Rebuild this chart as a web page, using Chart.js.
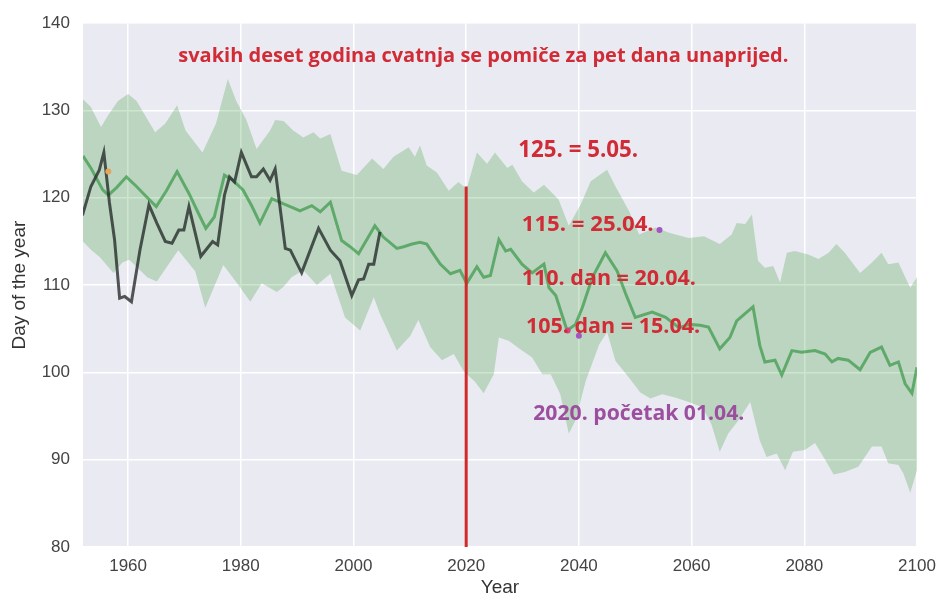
<!DOCTYPE html>
<html>
<head>
<meta charset="utf-8">
<script src="https://cdn.jsdelivr.net/npm/chart.js@4.4.1/dist/chart.umd.min.js"></script>
<style>
  html, body { margin: 0; padding: 0; background: #ffffff; }
  #wrap { width: 940px; height: 597px; position: relative; }
</style>
</head>
<body>
<div id="wrap"><canvas id="bloomChart"></canvas></div>
<script>
// flowering day: observed series, model mean and spread band, [year, day]
const observed = [
  [1951.9,118.0],[1953.4,121.3],[1954.9,123.2],[1955.7,125.2],[1956.7,119.4],[1957.6,115.2],
  [1958.5,108.5],[1959.4,108.7],[1960.6,108.1],[1962.1,114.0],[1963.7,119.2],[1965.1,117.1],
  [1966.6,115.0],[1967.8,114.8],[1969,116.3],[1969.9,116.3],[1970.8,119.0],[1972.9,113.3],
  [1975,115.0],[1975.9,114.6],[1977.1,120.3],[1978,122.4],[1978.9,121.8],[1980.1,125.2],
  [1981.9,122.4],[1982.8,122.4],[1984,123.3],[1985.2,122.0],[1986.1,123.3],[1987.9,114.2],
  [1988.8,114.0],[1990.8,111.4],[1993.8,116.5],[1995.9,114.0],[1997.6,112.8],[1999.7,108.8],
  [2000.9,110.6],[2001.8,110.7],[2002.7,112.4],[2003.6,112.4],[2004.7,116.1]
];

const modelMean = [
  [1952,124.8],[1953.5,123.3],[1955.5,120.9],[1956.5,120.3],[1958,121.2],[1959.7,122.4],
  [1961.5,121.3],[1963,120.3],[1965,119.0],[1966.8,120.8],[1968.7,123.0],[1970.8,120.5],
  [1972.5,118.2],[1973.8,116.5],[1975.3,117.8],[1977.1,122.6],[1978.6,122.0],[1980.4,120.9],
  [1982,119.0],[1983.4,117.1],[1985.5,119.9],[1987.6,119.3],[1989.5,118.8],[1990.5,118.5],
  [1992.6,119.1],[1994.1,118.4],[1995.9,119.5],[1997.9,115.1],[1999.4,114.4],[2000.9,113.6],
  [2003.8,116.8],[2005.3,115.5],[2007.7,114.2],[2008.9,114.4],[2010.4,114.7],[2011.8,114.9],
  [2013,114.7],[2015.4,112.4],[2017.2,111.3],[2018.9,111.7],[2020.1,110.2],[2021.9,112.1],
  [2023.1,110.9],[2024.3,111.1],[2025.8,115.2],[2027,113.9],[2027.9,114.1],[2029.9,112.4],
  [2031.7,111.4],[2033.8,112.4],[2034.7,109.7],[2035.9,108.8],[2037.9,104.8],[2039.4,105.5],
  [2040.6,107.4],[2042.4,110.9],[2044.7,113.7],[2046.8,111.6],[2048.3,109.0],[2050,106.3],
  [2053,106.9],[2055.4,106.3],[2057.8,105.1],[2059.5,105.5],[2061.5,105.4],[2063,105.2],
  [2065,102.7],[2066.8,104.0],[2068,105.9],[2069.8,106.9],[2070.9,107.5],[2072.1,103.1],
  [2073,101.2],[2074.8,101.4],[2076,99.7],[2077.8,102.5],[2079.5,102.3],[2081.9,102.5],
  [2083.7,102.1],[2084.9,101.2],[2086,101.6],[2087.8,101.4],[2089.9,100.3],[2091.7,102.3],
  [2093.7,102.9],[2095.2,100.8],[2096.7,101.2],[2097.9,98.7],[2099.1,97.6],[2100,100.6]
];

const bandUpper = [
  [1952,131.3],[1953.4,130.4],[1955.2,128.1],[1956.4,129.4],[1958.2,131.1],[1960,131.9],
  [1961.5,131.1],[1964.8,127.5],[1966.6,128.5],[1968.7,130.6],[1970.2,127.7],[1973.2,125.2],
  [1975.6,128.5],[1977.7,133.6],[1979.2,131.1],[1981,128.9],[1982.8,125.6],[1985.2,127.7],
  [1986.1,128.9],[1987.6,128.8],[1989.3,127.7],[1991.1,126.9],[1992.9,127.5],[1994.1,126.8],
  [1995.9,127.3],[1997.9,123.1],[2000.6,122.6],[2003.3,124.5],[2005.3,123.3],[2007.1,124.7],
  [2009.8,125.8],[2010.9,124.7],[2011.8,126.0],[2013,123.7],[2014.8,122.9],[2016.9,120.8],
  [2018.6,121.8],[2020.1,121.0],[2021.9,125.2],[2023.7,123.9],[2025.1,125.2],[2027.3,123.4],
  [2028.2,123.8],[2029.9,121.9],[2032,120.6],[2033.8,121.5],[2036.4,119.8],[2038.2,116.8],
  [2040.3,119.2],[2042.1,121.9],[2045,123.2],[2046.5,121.3],[2048.9,118.5],[2050.7,115.8],
  [2053.6,116.6],[2056,116.0],[2059.5,115.4],[2062.2,115.6],[2065,114.7],[2067.1,115.8],
  [2068,117.1],[2069.5,117.0],[2070.7,118.1],[2071.8,112.8],[2073,112.0],[2074.5,112.2],
  [2075.7,110.3],[2076.9,113.7],[2078.3,113.9],[2080.7,113.5],[2082.5,113.0],[2084.3,113.7],
  [2085.7,114.7],[2087.2,113.7],[2089.9,111.4],[2092,112.6],[2093.7,113.7],[2094.9,112.4],
  [2096.7,112.6],[2098.8,109.7],[2100,110.9]
];

const bandLower = [
  [1952,115.0],[1953.5,114.0],[1955,113.2],[1957.4,111.4],[1959,112.6],[1960.2,112.9],
  [1962.3,111.6],[1963.4,110.9],[1965.1,110.4],[1968.9,114.0],[1971.9,111.6],[1973.7,107.4],
  [1976.9,112.3],[1979.1,110.4],[1981.7,108.1],[1983.7,110.2],[1986.4,109.2],[1987.6,109.8],
  [1989,110.9],[1991.1,111.7],[1993.5,110.0],[1995.9,111.3],[1998.5,106.3],[2001.2,104.8],
  [2003.6,108.6],[2004.7,106.7],[2007.7,102.5],[2010.1,104.2],[2011.5,106.0],[2013.6,102.9],
  [2015.7,101.4],[2017.8,102.1],[2019.5,100.2],[2021.6,98.9],[2023.1,97.6],[2024.9,99.8],
  [2025.8,104.0],[2027.6,103.6],[2029.9,102.5],[2031.7,101.7],[2033.5,99.8],[2035,99.8],
  [2036.7,97.5],[2038.2,93.0],[2039.4,94.5],[2041.2,99.0],[2043.6,103.2],[2045,104.6],
  [2046.5,101.3],[2048.9,99.4],[2050.9,97.7],[2052.7,97.0],[2054.8,97.5],[2057.2,97.1],
  [2059.5,96.6],[2061.9,96.0],[2063.5,94.1],[2065,90.9],[2066.5,93.0],[2068.3,94.5],
  [2070.4,96.6],[2072.1,92.2],[2073.3,90.3],[2075.1,90.7],[2076.6,88.8],[2078,90.9],
  [2080.1,91.1],[2081.9,91.9],[2083.7,90.0],[2085.2,88.3],[2087.2,88.6],[2089.6,89.2],
  [2092,91.5],[2093.7,91.5],[2094.9,89.6],[2096.7,89.4],[2097.6,88.4],[2098.8,86.2],
  [2100,88.8]
];

// the red marker at 2020
const todayLine = [[2020,80],[2020,121.3]];
// stray coloured dots in the picture
const markDots = [[1956.5,123.0],[2038,104.8],[2040,104.2],[2054.3,116.3]];
const markColors = ["#e8a45a","#d2477e","#a455c4","#a455c4"];

const xTicks = [1960,1980,2000,2020,2040,2060,2080,2100];
const yTicks = [80,90,100,110,120,130,140];

// notes written on the chart (anchor = [year, day] of text baseline start)
const notes = [
  { text: "svakih deset godina cvatnja se pomiče za pet dana unaprijed.", at: [1968.9,135.5], size: 20, color: "#d12b36" },
  { text: "125. = 5.05.", at: [2029.25,124.7], size: 22.3, color: "#d12b36" },
  { text: "115. = 25.04.", at: [2029.85,116.2], size: 22.2, color: "#d12b36" },
  { text: "110. dan = 20.04.", at: [2029.85,110.0], size: 21.5, color: "#d12b36" },
  { text: "105. dan = 15.04.", at: [2030.6,104.5], size: 21.5, color: "#d12b36" },
  { text: "2020. početak 01.04.", at: [2031.9,94.55], size: 21.2, color: "#9c4f9f" }
];

const toPts = arr => arr.map(p => ({ x: p[0], y: p[1] }));

const plotBg = {
  id: "plotBg",
  beforeDraw(chart) {
    const { ctx, chartArea: a } = chart;
    ctx.save();
    ctx.fillStyle = "#eaeaf2";
    ctx.fillRect(a.left, a.top, a.right - a.left, a.bottom - a.top);
    ctx.restore();
  }
};

const notesPlugin = {
  id: "notes",
  afterDatasetsDraw(chart) {
    const { ctx, scales } = chart;
    ctx.save();
    ctx.textAlign = "left";
    ctx.textBaseline = "alphabetic";
    notes.forEach(n => {
      ctx.font = "bold " + n.size + "px 'Open Sans', sans-serif";
      ctx.fillStyle = n.color;
      ctx.fillText(n.text, scales.x.getPixelForValue(n.at[0]), scales.y.getPixelForValue(n.at[1]));
    });
    ctx.restore();
  }
};

const ctx = document.getElementById("bloomChart").getContext("2d");

new Chart(ctx, {
  type: "line",
  data: {
    datasets: [
      {
        label: "upper",
        data: toPts(bandUpper),
        borderWidth: 0,
        borderColor: "rgba(0,0,0,0)",
        backgroundColor: "rgba(0,128,0,0.2)",
        pointRadius: 0,
        fill: "+1",
        order: 6
      },
      {
        label: "lower",
        data: toPts(bandLower),
        borderWidth: 0,
        borderColor: "rgba(0,0,0,0)",
        pointRadius: 0,
        fill: false,
        order: 7
      },
      {
        label: "mean",
        data: toPts(modelMean),
        borderColor: "rgba(20,135,35,0.55)",
        borderWidth: 3,
        pointRadius: 0,
        fill: false,
        order: 4
      },
      {
        label: "2020",
        data: toPts(todayLine),
        borderColor: "#d12a2a",
        borderWidth: 3,
        pointRadius: 0,
        fill: false,
        clip: false,
        order: 3
      },
      {
        label: "observed",
        data: toPts(observed),
        borderColor: "rgba(40,45,42,0.8)",
        borderWidth: 3,
        pointRadius: 0,
        fill: false,
        order: 2
      },
      {
        type: "scatter",
        label: "dots",
        data: toPts(markDots),
        backgroundColor: markColors,
        borderWidth: 0,
        pointRadius: 3,
        order: 1
      }
    ]
  },
  options: {
    responsive: true,
    maintainAspectRatio: false,
    animation: false,
    layout: { padding: { top: 23, right: 23, left: 0, bottom: 0 } },
    plugins: {
      legend: { display: false },
      tooltip: { enabled: false }
    },
    scales: {
      x: {
        type: "linear",
        min: 1952,
        max: 2100,
        afterFit(scale) {
          scale.height = 50;
          scale.paddingLeft = 0;
          scale.paddingRight = 0;
        },
        afterBuildTicks(scale) { scale.ticks = xTicks.map(v => ({ value: v })); },
        grid: { color: "#ffffff", lineWidth: 1.5, tickLength: 0, drawTicks: false },
        border: { display: false },
        ticks: {
          color: "#444444",
          padding: 9,
          maxRotation: 0,
          font: { family: "'Liberation Sans', Arial, sans-serif", size: 17 },
          callback: v => String(v)
        },
        title: {
          display: true,
          text: "Year",
          color: "#333333",
          padding: 0,
          font: { family: "'Liberation Sans', Arial, sans-serif", size: 19, lineHeight: 1 }
        }
      },
      y: {
        min: 80,
        max: 140,
        afterFit(scale) { scale.width = 83; },
        afterBuildTicks(scale) { scale.ticks = yTicks.map(v => ({ value: v })); },
        grid: { color: "#ffffff", lineWidth: 1.5, tickLength: 0, drawTicks: false },
        border: { display: false },
        ticks: {
          color: "#444444",
          padding: 13,
          font: { family: "'Liberation Sans', Arial, sans-serif", size: 17 },
          callback: v => String(v)
        },
        title: {
          display: true,
          text: "Day of the year",
          color: "#333333",
          padding: { top: 10, bottom: 0 },
          font: { family: "'Liberation Sans', Arial, sans-serif", size: 19, lineHeight: 1 }
        }
      }
    }
  },
  plugins: [plotBg, notesPlugin]
});
</script>
</body>
</html>
